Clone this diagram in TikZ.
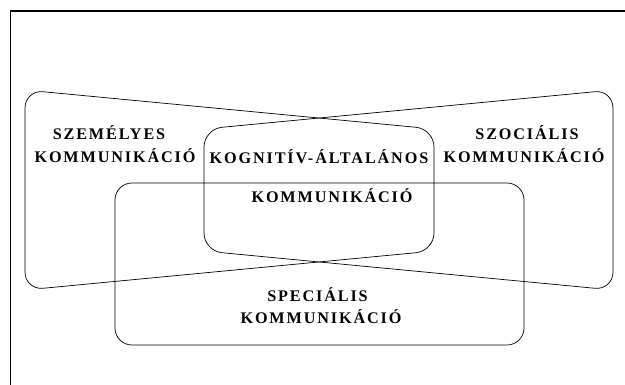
\documentclass[tikz,border=0pt]{standalone}
\usepackage{fontspec}
\setmainfont{Liberation Serif}
\newfontfamily\lblfont{Liberation Serif}[LetterSpace=11.5]
\begin{document}
\begin{tikzpicture}[x=1pt,y=-1pt] \tikzset{% This is the style settings for shapes and labels
        area/.style={draw, line width=0.7pt, rounded corners=18pt},
        frame/.style={line width=1.3pt},
        lbl/.style={font=\lblfont\bfseries\fontsize{16.2}{19}\selectfont, inner sep=0pt, anchor=base},
        }
        \useasboundingbox (0,0) rectangle (625,385);
        % Frame
        \draw[frame] (10.5,385) -- (10.5,11) -- (625,11);
        % Shapes
        \draw[area] (25,90) -- (434,129) -- (434,251) -- (25,290) -- cycle;
        \draw[area] (613,90) -- (204,129) -- (204,251) -- (613,290) -- cycle;
        \draw[area, rounded corners=17pt] (115,183) rectangle (524,345);
        % Nodes
        \node[lbl] (szem) at (109,140) {SZEMÉLYES}; \node[lbl] (szemk) at (115,163) {KOMMUNIKÁCIÓ};
        \node[lbl] (szoc) at (527,139.5) {SZOCIÁLIS}; \node[lbl] (szock) at (524,163) {KOMMUNIKÁCIÓ};
        \node[lbl] (kogn) at (319,164) {KOGNITÍV-ÁLTALÁNOS}; \node[lbl] (kognk) at (332,203) {KOMMUNIKÁCIÓ};
        \node[lbl] (spec) at (317.5,301.5) {SPECIÁLIS}; \node[lbl] (speck) at (321,324) {KOMMUNIKÁCIÓ};
\end{tikzpicture}
\end{document}
